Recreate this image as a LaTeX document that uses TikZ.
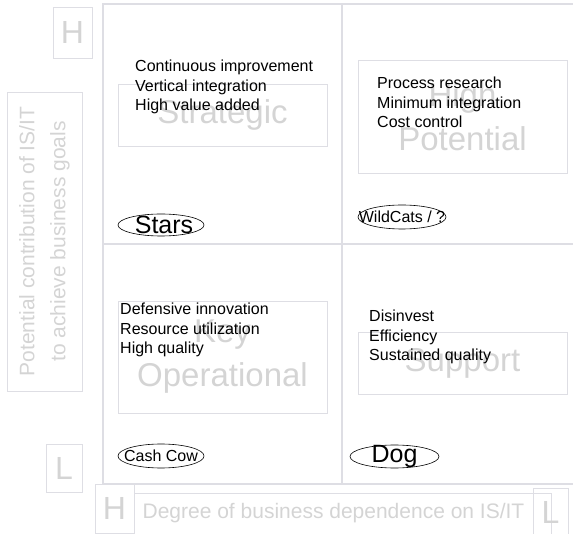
\documentclass[tikz,border=0pt]{standalone}
\usepackage{fontspec}
\setmainfont{Liberation Sans}
\usepackage{tikz}
\definecolor{framegray}{RGB}{222,222,228}
\definecolor{labelgray}{RGB}{212,212,212}
\usetikzlibrary{shapes.geometric, positioning, calc}

\begin{document}
\begin{tikzpicture}[
    x=1pt, y=-1pt,
    frameline/.style={draw=framegray, line width=1.2pt},
    catbox/.style={rectangle, draw=framegray, line width=0.8pt, text=labelgray,
                   minimum width=209pt, align=center, inner sep=0pt,
                   font=\fontsize{33}{44}\selectfont},
    axisbox/.style={rectangle, draw=framegray, line width=0.8pt, text=labelgray,
                    inner sep=0pt, align=center},
    hlbox/.style={axisbox, font=\fontsize{32}{36}\selectfont},
    goals/.style={anchor=north west, inner sep=0pt, align=left,
                  font=\fontsize{16}{19.5}\selectfont},
    quadtag/.style={ellipse, draw, line width=0.6pt, inner sep=0pt},
    bigtag/.style={inner sep=0pt, font=\fontsize{25}{25}\selectfont},
    smalltag/.style={inner sep=0pt, font=\fontsize{16}{16}\selectfont}
]
    \useasboundingbox (0,0) rectangle (573,534);

    % quadrant grid
    \coordinate (gridtl) at (103,4);
    \coordinate (gridbl) at (103,484);
    \draw[frameline] (573,4) -- (gridtl) -- (gridbl) -- (573,484);
    \draw[frameline] (342,4) -- (342,484);
    \draw[frameline] (103,244) -- (573,244);

    % category boxes
    \node[catbox, minimum height=62pt] (strategic) at (222.5,115) {Strategic};
    \node[catbox, minimum height=113pt] (highpot) at (462.5,116.5) {High\\Potential};
    \node[catbox, minimum height=112pt] (keyop) at (222.5,357) {Key\\Operational};
    \node[catbox, minimum height=62pt] (support) at (462.5,363) {Support};

    \node[goals] (starsgoals) at (135,60) {Continuous improvement\\Vertical integration\\High value added};
    \node[goals] (wildgoals) at (377,77) {Process research\\Minimum integration\\Cost control};
    \node[goals] (cowgoals) at (120,303) {Defensive innovation\\Resource utilization\\High quality};
    \node[goals] (doggoals) at (369,310) {Disinvest\\Efficiency\\Sustained quality};

    \node[quadtag, minimum width=86pt, minimum height=22pt,
          label={[bigtag, xshift=3pt]center:Stars}] (stars) at (161,225) {};
    \node[quadtag, minimum width=88pt, minimum height=24pt,
          label={[smalltag]center:WildCats / ?}] (wildcats) at (402,217) {};
    \node[quadtag, minimum width=86pt, minimum height=24pt,
          label={[smalltag]center:Cash Cow}] (cashcow) at (161,456) {};
    \node[quadtag, minimum width=89pt, minimum height=23pt,
          label={[bigtag]center:Dog}] (dog) at (394.5,456.5) {};

    % axes
    \node[axisbox, minimum width=299pt, minimum height=75pt, rotate=90,
          font=\fontsize{21}{31}\selectfont] (contrib) at (44.5,241.5)
          {Potential contribution of IS/IT\\to achieve business goals};
    \node[hlbox, minimum width=39pt, minimum height=51pt] (hightop) at (72.5,32.5) {H};
    \node[hlbox, minimum width=36pt, minimum height=48pt] (lowleft) at (64,468) {L};
    \node[hlbox, minimum width=39pt, minimum height=49pt] (highbottom) at (114.5,508.5) {H};
    \node[axisbox, minimum width=417pt, minimum height=50pt, anchor=north west] (depbox) at (134,493) {};
    \node[text=labelgray, inner sep=0pt, font=\fontsize{21}{21}\selectfont] (dependence)
          at (333.5,513) {Degree of business dependence on IS/IT};
    \node[hlbox, minimum width=35pt, minimum height=48pt] (lowbottom) at (550.5,512) {L};
\end{tikzpicture}
\end{document}
